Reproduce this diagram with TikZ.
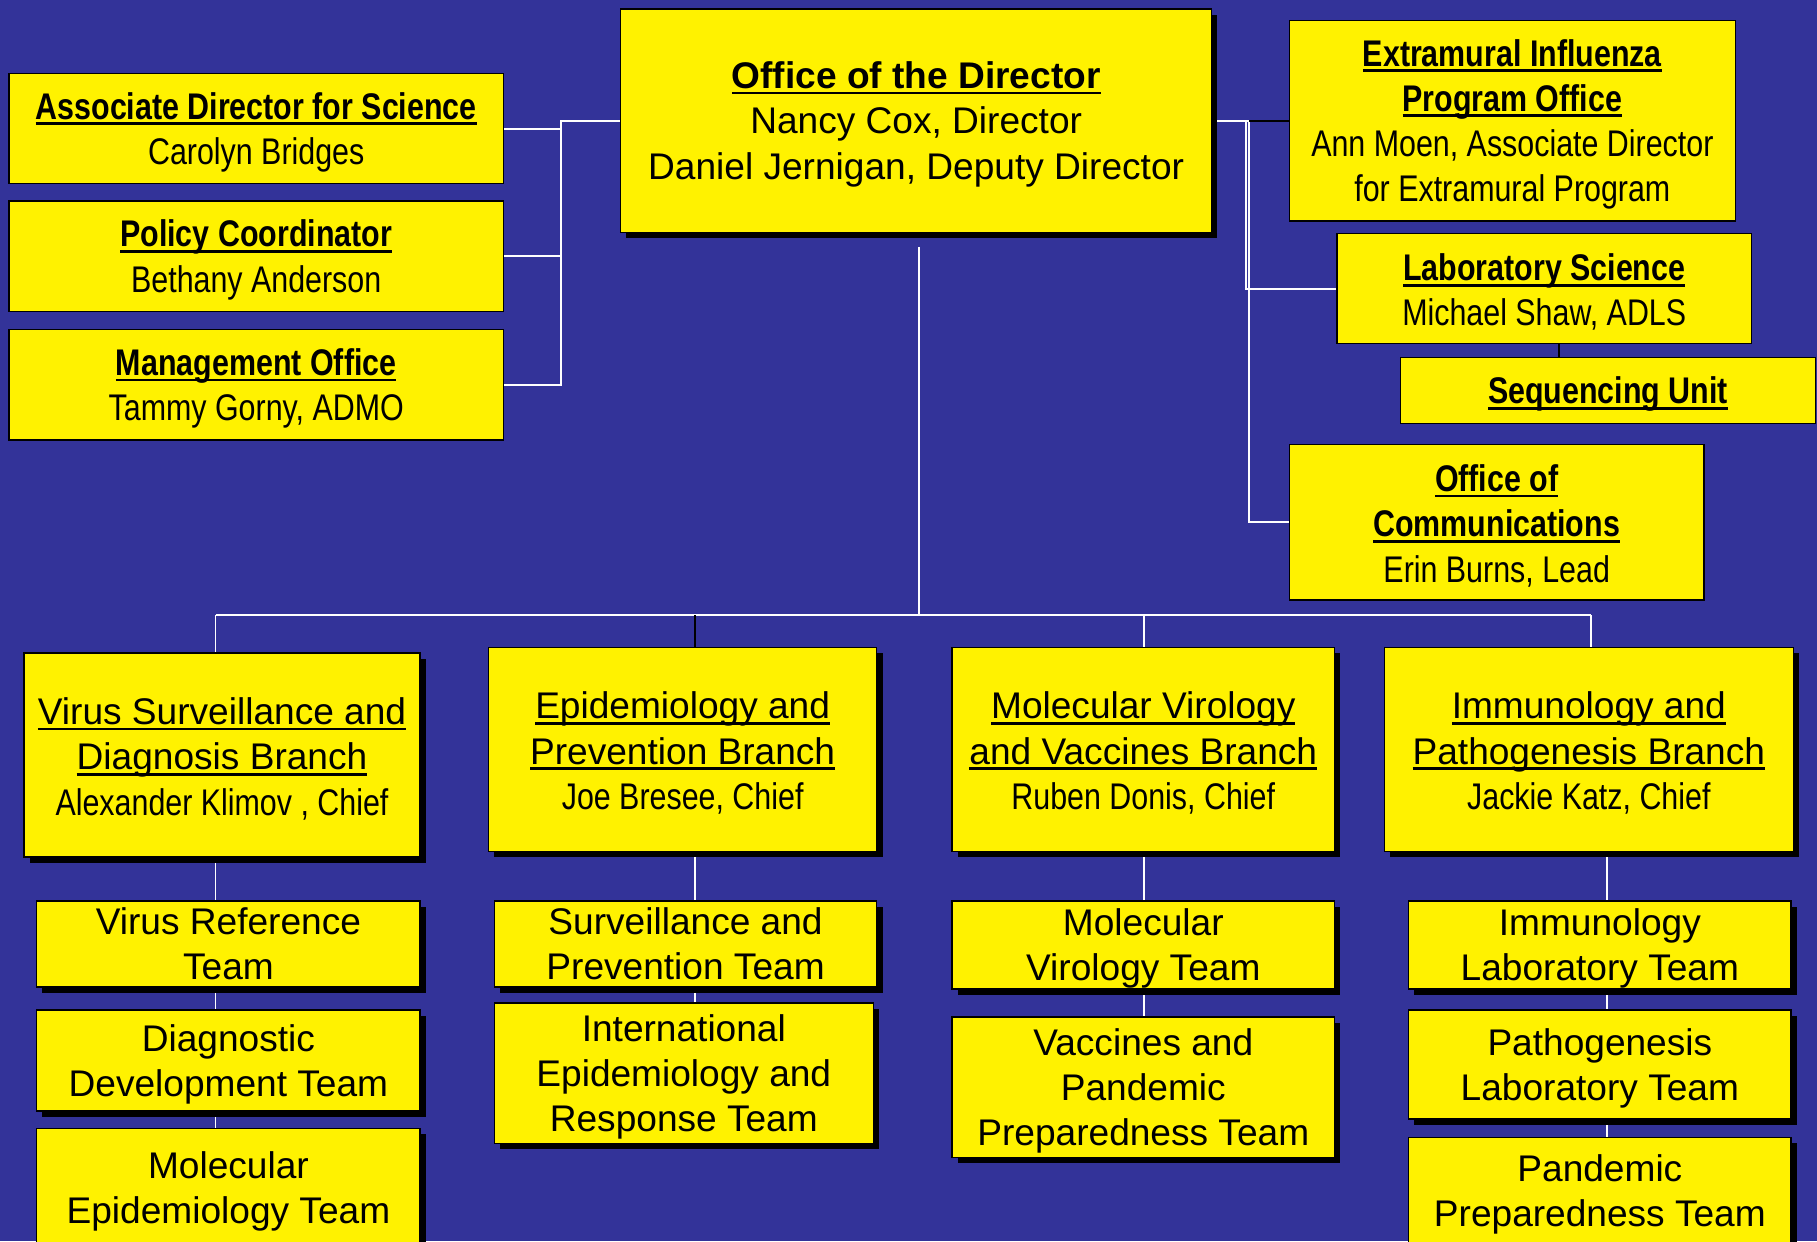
\documentclass[tikz,border=0pt]{standalone}
\usepackage{fontspec}
\setmainfont{Liberation Sans}
\newfontfamily\nar[FakeStretch=0.82]{Liberation Sans}
\usetikzlibrary{shadows}
\definecolor{bgblue}{RGB}{51,51,153}
\newcommand\myul[1]{\setbox0\hbox{#1}\rlap{\rule[-5pt]{\wd0}{2.4pt}}\box0}
\newcommand\Sx{\rule{0pt}{29.5pt}}
\pgfdeclarelayer{back}
\pgfdeclarelayer{lines}
\pgfsetlayers{back,lines,main}
\tikzset{
 box/.style={draw=black, line width=1.2pt, fill=yellow, anchor=north west, inner sep=0pt, align=center, font=\fontsize{32}{39}\selectfont},
 shbox/.style={box, drop shadow={shadow xshift=5pt, shadow yshift=-5pt, opacity=1, fill=black}},
 wline/.style={draw=white, line width=1.6pt},
 bline/.style={draw=black, line width=1.6pt},
}
\begin{document}
\begin{tikzpicture}[x=1pt,y=-1pt]
\begin{pgfonlayer}{back}
\fill[bgblue] (0,0) rectangle (1568,1071);
\end{pgfonlayer}
\useasboundingbox (0,0) rectangle (1568,1071);

% top level
\node[shbox, minimum width=510pt, minimum height=193pt] (dir) at (535,7)
 {\Sx{\bfseries\myul{Office of the Director}}\\Nancy Cox, Director\\Daniel Jernigan, Deputy Director};

\node[box, minimum width=427pt, minimum height=95pt] (ads) at (7,63)
 {\Sx{\nar\bfseries\myul{Associate Director for Science}}\\{\nar Carolyn Bridges}};
\node[box, minimum width=427pt, minimum height=95pt] (pol) at (7,173)
 {\Sx{\nar\bfseries\myul{Policy Coordinator}}\\{\nar Bethany Anderson}};
\node[box, minimum width=427pt, minimum height=95pt] (mgmt) at (7,284)
 {\Sx{\nar\bfseries\myul{Management Office}}\\{\nar Tammy Gorny, ADMO}};

\node[box, minimum width=385pt, minimum height=173pt] (ext) at (1112,17)
 {\Sx{\nar\bfseries\myul{Extramural Influenza}}\\{\nar\bfseries\myul{Program Office}}\\{\nar Ann Moen, Associate Director}\\{\nar for Extramural Program}};
\node[box, minimum width=358pt, minimum height=95pt] (lab) at (1153,201)
 {\Sx{\nar\bfseries\myul{Laboratory Science}}\\{\nar Michael Shaw, ADLS}};
\node[box, minimum width=358pt, minimum height=57pt] (seq) at (1208,308)
 {\Sx{\nar\bfseries\myul{Sequencing Unit}}};
\node[box, minimum width=358pt, minimum height=134pt] (comm) at (1112,383)
 {\Sx{\nar\bfseries\myul{Office of}}\\{\nar\bfseries\myul{Communications}}\\{\nar Erin Burns, Lead}};

% branches
\node[shbox, minimum width=342pt, minimum height=176pt] (vs) at (20,563)
 {\Sx\myul{Virus Surveillance and}\\\myul{Diagnosis Branch}\\{\nar Alexander Klimov , Chief}};
\node[shbox, minimum width=335pt, minimum height=176pt] (ep) at (421,558)
 {\Sx\myul{Epidemiology and}\\\myul{Prevention Branch}\\{\nar Joe Bresee, Chief}};
\node[shbox, minimum width=330pt, minimum height=176pt] (mv) at (821,558)
 {\Sx\myul{Molecular Virology}\\\myul{and Vaccines Branch}\\{\nar Ruben Donis, Chief}};
\node[shbox, minimum width=353pt, minimum height=176pt] (ip) at (1194,558)
 {\Sx\myul{Immunology and}\\\myul{Pathogenesis Branch}\\{\nar Jackie Katz, Chief}};

% teams
\node[shbox, minimum width=331pt, minimum height=74pt] (t11) at (31,777) {Virus Reference\\Team};
\node[shbox, minimum width=331pt, minimum height=87pt] (t12) at (31,871) {\Sx Diagnostic\\Development Team};
\node[shbox, minimum width=331pt, minimum height=103pt] (t13) at (31,973) {\Sx Molecular\\Epidemiology Team};

\node[shbox, minimum width=330pt, minimum height=74pt] (t21) at (426,777) {Surveillance and\\Prevention Team};
\node[shbox, minimum width=327pt, minimum height=121pt] (t22) at (426,865) {\Sx International\\Epidemiology and\\Response Team};

\node[shbox, minimum width=330pt, minimum height=76pt] (t31) at (821,777) {\Sx Molecular\\Virology Team};
\node[shbox, minimum width=330pt, minimum height=121pt] (t32) at (821,877) {\Sx Vaccines and\\Pandemic\\Preparedness Team};

\node[shbox, minimum width=330pt, minimum height=76pt] (t41) at (1215,777) {\Sx Immunology\\Laboratory Team};
\node[shbox, minimum width=330pt, minimum height=94pt] (t42) at (1215,871) {\Sx Pathogenesis\\Laboratory Team};
\node[shbox, minimum width=330pt, minimum height=92pt] (t43) at (1215,981) {\Sx Pandemic\\Preparedness Team};

% connectors
\coordinate (lj) at (484,0);
\coordinate (rj1) at (1075,0);
\coordinate (rj2) at (1078,0);
\coordinate (sj) at (1345,0);
\coordinate (tt) at (793,213);
\coordinate (bus) at (793,531);
\coordinate (d1) at (186,531);
\coordinate (d2) at (600,531);
\coordinate (d3) at (987,531);
\coordinate (d4) at (1373,531);
\coordinate (c4) at (1387,531);

\begin{pgfonlayer}{lines}
\draw[wline] (dir.west) -| (lj |- mgmt.east) -- (mgmt.east);
\draw[wline] (ads.east) -- (lj |- ads.east);
\draw[wline] (pol.east) -- (lj |- pol.east);

\draw[wline] (dir.east) -| (rj1 |- lab.west) -- (lab.west);
\draw[wline] (dir.east) -| (rj2 |- comm.west) -- (comm.west);
\draw[bline] (rj2 |- ext.west) -- (ext.west);
\draw[bline] (sj |- lab.south) -- (sj |- seq.north);

\draw[wline] (tt) -- (bus);
\draw[wline] (d1) -- (d4);
\draw[wline] (d1) -- (d1 |- vs.north);
\draw[bline] (d2) -- (d2 |- ep.north);
\draw[wline] (d3) -- (d3 |- mv.north);
\draw[wline] (d4) -- (d4 |- ip.north);

\draw[wline] (d1 |- vs.south) -- (d1 |- t13.north);
\draw[wline] (d2 |- ep.south) -- (d2 |- t22.north);
\draw[wline] (d3 |- mv.south) -- (d3 |- t32.north);
\draw[wline] (c4 |- ip.south) -- (c4 |- t43.north);
\end{pgfonlayer}
\end{tikzpicture}
\end{document}
